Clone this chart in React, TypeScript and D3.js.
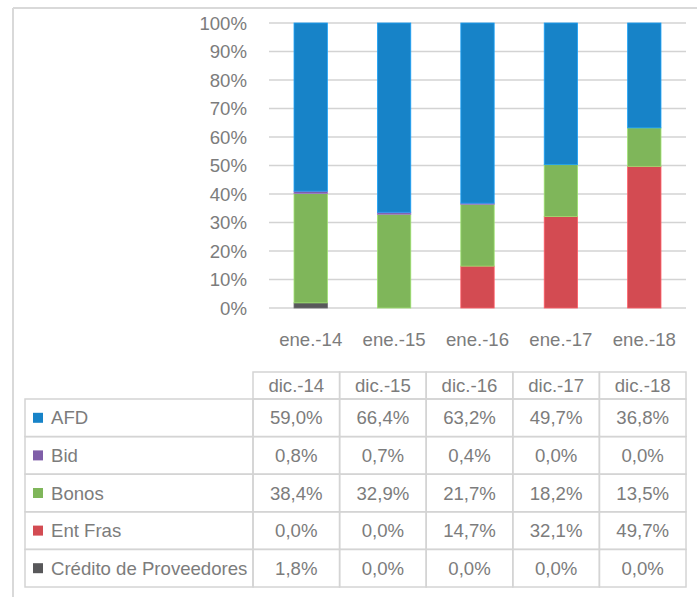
import React from "react";
import * as d3 from "d3";

const categories = ["ene.-14", "ene.-15", "ene.-16", "ene.-17", "ene.-18"];
const tableHeaders = ["dic.-14", "dic.-15", "dic.-16", "dic.-17", "dic.-18"];
const seriesNames = ["AFD", "Bid", "Bonos", "Ent Fras", "Crédito de Proveedores"];
const seriesColors = ["#1783c8", "#7f5ea8", "#7fb65a", "#d34b52", "#58585a"];
const afd = [59.0, 66.4, 63.2, 49.7, 36.8];
const bid = [0.8, 0.7, 0.4, 0.0, 0.0];
const bonos = [38.4, 32.9, 21.7, 18.2, 13.5];
const entFras = [0.0, 0.0, 14.7, 32.1, 49.7];
const credito = [1.8, 0.0, 0.0, 0.0, 0.0];
const yTicks = [0, 10, 20, 30, 40, 50, 60, 70, 80, 90, 100];

const seriesValues = [afd, bid, bonos, entFras, credito];

export default function App() {
  const W = 697, H = 597;
  const font = "'Liberation Sans', Arial, sans-serif";
  const textColor = "#7c7c7c";
  const fs = 18.6;

  const x = d3.scaleBand<string>().domain(categories).range([269, 686]).paddingInner(0.6).paddingOuter(0.3);
  const y = d3.scaleLinear().domain([0, 100]).range([308, 23]);

  const rows = categories.map((c, i) => {
    const total = seriesValues.reduce((s, arr) => s + arr[i], 0);
    const o: any = { cat: c };
    seriesNames.forEach((n, k) => { o[n] = (seriesValues[k][i] / total) * 100; });
    return o;
  });
  // stack bottom to top: Crédito, Ent Fras, Bonos, Bid, AFD
  const stackKeys = [...seriesNames].reverse();
  const stacked = d3.stack<any>().keys(stackKeys)(rows);

  // table geometry
  const colX = d3.scaleBand<string>().domain(tableHeaders).range([253, 686]);
  const headerTop = 372, headerBottom = 399;
  const rowY = d3.scaleBand<string>().domain(seriesNames).range([399, 587]);
  const labelLeft = 25;

  const fmt = (v: number) => v.toFixed(1).replace(".", ",") + "%";
  const border = "#d4d4d4";

  return (
    <svg width={W} height={H} style={{ position: "absolute", left: 0, top: 0 }} fontFamily={font}>
      <rect x={0} y={0} width={W} height={H} fill="#fff" />
      {/* frame */}
      <line x1={13} x2={W} y1={8} y2={8} stroke="#d9d9d9" strokeWidth={2} />
      <line x1={13} x2={13} y1={8} y2={H} stroke="#d9d9d9" strokeWidth={2} />

      {/* gridlines and y labels */}
      {yTicks.map((t) => (
        <g key={t}>
          <line x1={269} x2={686} y1={y(t)} y2={y(t)} stroke="#d3d3d3" strokeWidth={1.6} />
          <text x={247} y={y(t)} dy="0.36em" textAnchor="end" fontSize={fs} fill={textColor}>{t}%</text>
        </g>
      ))}

      {/* bars */}
      {stacked.map((layer) => {
        const idx = seriesNames.indexOf(layer.key);
        return (
          <g key={layer.key} fill={seriesColors[idx]}>
            {layer.map((d, i) => {
              const h = y(d[0]) - y(d[1]);
              if (h <= 0.01) return null;
              return (
                <rect key={i} x={x(categories[i])!} width={x.bandwidth()} y={y(d[1])} height={h}
                  stroke={d3.color(seriesColors[idx])!.brighter(0.6).formatHex()} strokeWidth={0.8} />
              );
            })}
          </g>
        );
      })}

      {/* x labels */}
      {categories.map((c) => (
        <text key={c} x={x(c)! + x.bandwidth() / 2} y={339} dy="0.36em" textAnchor="middle" fontSize={fs} fill={textColor}>{c}</text>
      ))}

      {/* table header */}
      {tableHeaders.map((h) => (
        <g key={h}>
          <rect x={colX(h)!} y={headerTop} width={colX.bandwidth()} height={headerBottom - headerTop} fill="none" stroke={border} strokeWidth={1.5} />
          <text x={colX(h)! + colX.bandwidth() / 2} y={(headerTop + headerBottom) / 2} dy="0.36em" textAnchor="middle" fontSize={fs} fill={textColor}>{h}</text>
        </g>
      ))}

      {/* table rows */}
      {seriesNames.map((n, k) => {
        const ry = rowY(n)!;
        const rh = rowY.bandwidth();
        return (
          <g key={n}>
            <rect x={labelLeft} y={ry} width={253 - labelLeft} height={rh} fill="none" stroke={border} strokeWidth={1.5} />
            <rect x={33} y={ry + rh / 2 - 5} width={10} height={10} fill={seriesColors[k]} />
            <text x={51} y={ry + rh / 2} dy="0.36em" fontSize={fs} fill={textColor}>{n}</text>
            {tableHeaders.map((h, i) => (
              <g key={h}>
                <rect x={colX(h)!} y={ry} width={colX.bandwidth()} height={rh} fill="none" stroke={border} strokeWidth={1.5} />
                <text x={colX(h)! + colX.bandwidth() / 2} y={ry + rh / 2} dy="0.36em" textAnchor="middle" fontSize={fs} fill={textColor}>{fmt(seriesValues[k][i])}</text>
              </g>
            ))}
          </g>
        );
      })}
    </svg>
  );
}
